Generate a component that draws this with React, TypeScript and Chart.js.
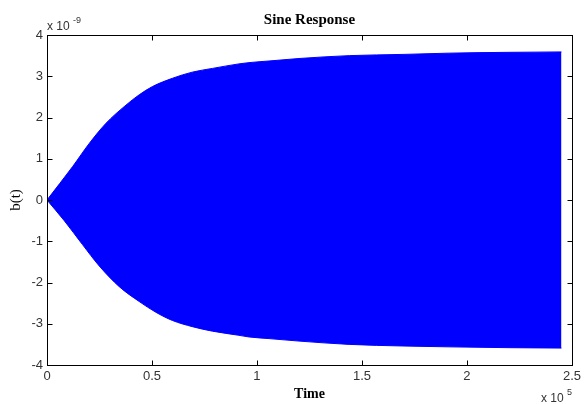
import React, { useEffect, useRef } from "react";
import { Chart, registerables } from "chart.js";

Chart.register(...registerables);

// Time in units of 1e5
const upperTime = [0, 0.122, 0.201, 0.281, 0.376, 0.439, 0.502, 0.597, 0.692, 0.788, 0.914, 0.962, 1.057, 1.2, 1.439, 1.7, 1.914, 2.2, 2.45];
// b(t) upper envelope in units of 1e-9
const upperValues = [0, 0.81, 1.37, 1.86, 2.3, 2.55, 2.75, 2.95, 3.1, 3.19, 3.3, 3.33, 3.37, 3.43, 3.5, 3.53, 3.56, 3.58, 3.59];

const lowerTime = [0, 0.082, 0.169, 0.249, 0.344, 0.439, 0.518, 0.597, 0.692, 0.788, 0.914, 0.962, 1.057, 1.2, 1.439, 1.7, 1.914, 2.2, 2.45];
const lowerValues = [0, -0.5, -1.08, -1.6, -2.1, -2.46, -2.72, -2.92, -3.07, -3.18, -3.28, -3.32, -3.36, -3.42, -3.5, -3.54, -3.56, -3.58, -3.59];

const xTicks = [0, 0.5, 1, 1.5, 2, 2.5];
const yTicks = [-4, -3, -2, -1, 0, 1, 2, 3, 4];

const titleText = "Sine Response";
const xLabel = "Time";
const yLabel = "b(t)";

const frame = {
  id: "matlabFrame",
  afterDraw(chart: any) {
    const { ctx, chartArea: a, scales } = chart;
    const x = scales.x;
    const y = scales.y;
    ctx.save();
    ctx.strokeStyle = "#000";
    ctx.lineWidth = 1;
    const L = Math.round(a.left) + 0.5;
    const R = Math.round(a.right) + 0.5;
    const T = Math.round(a.top) + 0.5;
    const B = Math.round(a.bottom) + 0.5;
    ctx.strokeRect(L, T, R - L, B - T);
    ctx.beginPath();
    for (const v of xTicks) {
      const px = Math.round(x.getPixelForValue(v)) + 0.5;
      ctx.moveTo(px, B); ctx.lineTo(px, B - 5);
      ctx.moveTo(px, T); ctx.lineTo(px, T + 5);
    }
    for (const v of yTicks) {
      const py = Math.round(y.getPixelForValue(v)) + 0.5;
      ctx.moveTo(L, py); ctx.lineTo(L + 5, py);
      ctx.moveTo(R, py); ctx.lineTo(R - 5, py);
    }
    ctx.stroke();

    ctx.fillStyle = "#000";
    ctx.textAlign = "center";
    ctx.textBaseline = "alphabetic";
    ctx.font = "bold 15px 'Liberation Serif', 'Times New Roman', serif";
    ctx.fillText(titleText, (a.left + a.right) / 2, 24);
    ctx.font = "bold 14px 'Liberation Serif', 'Times New Roman', serif";
    ctx.fillText(xLabel, (a.left + a.right) / 2, 398);
    ctx.save();
    ctx.translate(20, (a.top + a.bottom) / 2);
    ctx.rotate(-Math.PI / 2);
    ctx.font = "15px 'Liberation Serif', 'Times New Roman', serif";
    ctx.fillText(yLabel, 0, 0);
    ctx.restore();

    ctx.fillStyle = "#333";
    ctx.textAlign = "left";
    ctx.font = "12px 'Liberation Sans', Arial, sans-serif";
    ctx.fillText("x 10", 47, 30);
    ctx.font = "9px 'Liberation Sans', Arial, sans-serif";
    ctx.fillText("-9", 73, 23);
    ctx.font = "12px 'Liberation Sans', Arial, sans-serif";
    ctx.fillText("x 10", 541, 402);
    ctx.font = "9px 'Liberation Sans', Arial, sans-serif";
    ctx.fillText("5", 567, 395);
    ctx.restore();
  },
};

export default function App() {
  const ref = useRef<HTMLCanvasElement | null>(null);
  useEffect(() => {
    if (!ref.current) return;
    const upper = upperTime.map((t, i) => ({ x: t, y: upperValues[i] }));
    const lower = lowerTime.map((t, i) => ({ x: t, y: lowerValues[i] }));
    const chart = new Chart(ref.current, {
      type: "line",
      data: {
        datasets: [
          {
            data: upper,
            borderColor: "#0000ff",
            borderWidth: 1,
            backgroundColor: "#0000ff",
            pointRadius: 0,
            fill: "+1",
            cubicInterpolationMode: "monotone",
          },
          {
            data: lower,
            borderColor: "#0000ff",
            borderWidth: 1,
            backgroundColor: "#0000ff",
            pointRadius: 0,
            fill: false,
            cubicInterpolationMode: "monotone",
          },
        ],
      },
      options: {
        animation: false,
        responsive: false,
        maintainAspectRatio: false,
        layout: { padding: { left: 0, right: 11, top: 35, bottom: 0 } },
        plugins: { legend: { display: false }, tooltip: { enabled: false }, title: { display: false } },
        scales: {
          x: {
            type: "linear",
            min: 0,
            max: 2.5,
            grid: { display: false, drawTicks: false },
            border: { display: false },
            afterFit: (s: any) => { s.height = 39; },
            afterBuildTicks: (s: any) => { s.ticks = xTicks.map((v) => ({ value: v })); },
            ticks: {
              padding: 4,
              color: "#333",
              font: { family: "'Liberation Sans', Arial, sans-serif", size: 13 },
              maxRotation: 0,
              callback: (v: any) => String(v),
            },
          },
          y: {
            type: "linear",
            min: -4,
            max: 4,
            grid: { display: false, drawTicks: false },
            border: { display: false },
            afterFit: (s: any) => { s.width = 47; },
            afterBuildTicks: (s: any) => { s.ticks = yTicks.map((v) => ({ value: v })); },
            ticks: {
              padding: 4,
              color: "#333",
              font: { family: "'Liberation Sans', Arial, sans-serif", size: 13 },
              callback: (v: any) => String(v),
            },
          },
        },
      },
      plugins: [frame],
    });
    return () => chart.destroy();
  }, []);
  return (
    <div style={{ position: "fixed", left: 0, top: 0, width: 585, height: 404, background: "#fff" }}>
      <canvas ref={ref} width={585} height={404} style={{ width: 585, height: 404 }} />
    </div>
  );
}
